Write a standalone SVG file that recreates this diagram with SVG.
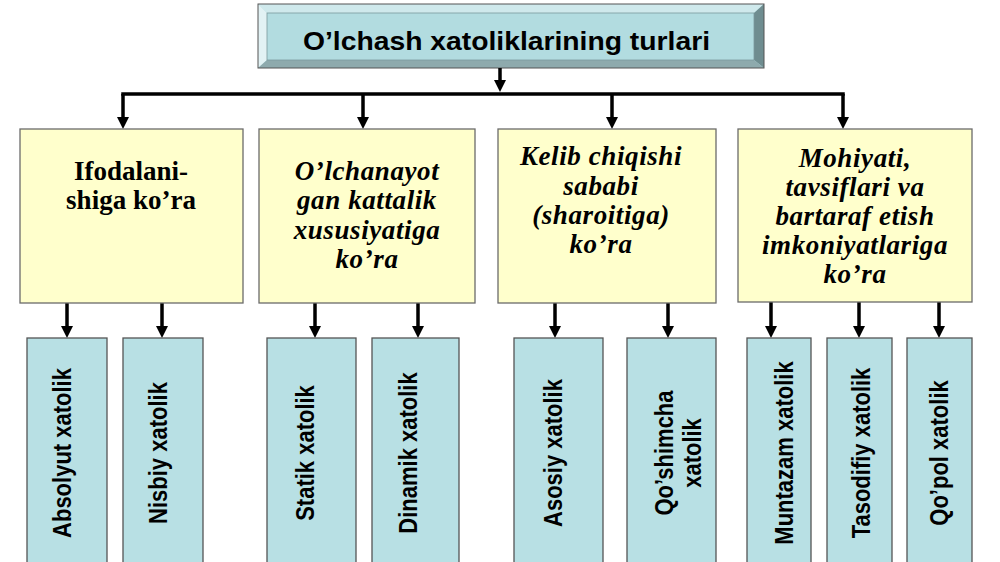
<svg xmlns="http://www.w3.org/2000/svg" width="1000" height="562" viewBox="0 0 1000 562">
  <defs>
    <marker id="ah" viewBox="0 0 12 12" refX="4" refY="6" markerWidth="12" markerHeight="12" markerUnits="userSpaceOnUse" orient="auto">
      <path d="M0,0 L12,6 L0,12 z" fill="#000"/>
    </marker>
    <style>
      .conn { stroke: #000; stroke-width: 3.5; fill: none; }
      .arr { marker-end: url(#ah); }
      .cat { fill: #ffffcc; stroke: #6b6b6b; stroke-width: 1.3; }
      .leaf { fill: #b8e0e4; stroke: #555; stroke-width: 1.3; }
      .ct { font-family: "Liberation Serif", "Times New Roman", serif; font-weight: bold; font-size: 27px; fill: #000; text-anchor: middle; }
      .it { font-style: italic; letter-spacing: 0.6px; }
      .lt { font-family: "Liberation Sans", Arial, sans-serif; font-weight: bold; font-size: 22px; fill: #000; text-anchor: middle; }
    </style>
  </defs>
  <rect width="1000" height="562" fill="#fff"/>

  <g id="title">
    <rect x="258" y="4" width="506" height="64" fill="#b2dce0"/>
    <polygon points="258,4 764,4 754,13 267,13" fill="#cfe9ec"/>
    <polygon points="258,4 267,13 267,60 258,68" fill="#e2f2f4"/>
    <polygon points="764,4 764,68 754,60 754,13" fill="#6f8d90"/>
    <polygon points="258,68 267,60 754,60 764,68" fill="#8eaaad"/>
    <rect x="258" y="4" width="506" height="64" fill="none" stroke="#555" stroke-width="1"/>
    <rect x="267" y="13" width="487" height="47" fill="none" stroke="#7a9a9d" stroke-width="0.8"/>
    <text x="506.5" y="50" font-family="'Liberation Sans', Arial, sans-serif" font-weight="bold" font-size="25.5" text-anchor="middle" textLength="407" lengthAdjust="spacingAndGlyphs">O’lchash xatoliklarining turlari</text>
  </g>

  <g id="connectors">
    <path class="conn arr" d="M500,68 V84"/>
    <path class="conn" d="M123,94 H843" stroke-linecap="square"/>
    <path class="conn arr" d="M123,94 V121"/>
    <path class="conn arr" d="M363,94 V121"/>
    <path class="conn arr" d="M612,94 V121"/>
    <path class="conn arr" d="M843,94 V121"/>
    <path class="conn arr" d="M67,303 V330"/>
    <path class="conn arr" d="M162,303 V330"/>
    <path class="conn arr" d="M315,303 V330"/>
    <path class="conn arr" d="M418,303 V330"/>
    <path class="conn arr" d="M555,303 V330"/>
    <path class="conn arr" d="M668,303 V330"/>
    <path class="conn arr" d="M771,302 V330"/>
    <path class="conn arr" d="M859,302 V330"/>
    <path class="conn arr" d="M939,302 V330"/>
  </g>

  <g id="cat1">
    <rect class="cat" x="20" y="129" width="223" height="174"/>
    <text class="ct" x="131" y="180">Ifodalani-</text>
    <text class="ct" x="131" y="209">shiga ko’ra</text>
  </g>
  <g id="cat2">
    <rect class="cat" x="259" y="129" width="216" height="174"/>
    <text class="ct it" x="367" y="180">O’lchanayot</text>
    <text class="ct it" x="367" y="209">gan kattalik</text>
    <text class="ct it" x="367" y="239">xususiyatiga</text>
    <text class="ct it" x="367" y="268">ko’ra</text>
  </g>
  <g id="cat3">
    <rect class="cat" x="498" y="129" width="218" height="174"/>
    <text class="ct it" x="601" y="165">Kelib chiqishi</text>
    <text class="ct it" x="601" y="195">sababi</text>
    <text class="ct it" x="601" y="224">(sharoitiga)</text>
    <text class="ct it" x="601" y="253">ko’ra</text>
  </g>
  <g id="cat4">
    <rect class="cat" x="738" y="129" width="234" height="173"/>
    <text class="ct it" x="855" y="167">Mohiyati,</text>
    <text class="ct it" x="855" y="196">tavsiflari va</text>
    <text class="ct it" x="855" y="225">bartaraf etish</text>
    <text class="ct it" x="855" y="254">imkoniyatlariga</text>
    <text class="ct it" x="855" y="283">ko’ra</text>
  </g>

  <g id="leaf1">
    <rect class="leaf" x="27" y="338" width="80" height="232"/>
    <text class="lt" transform="translate(70.5,453) rotate(-90) scale(1,1.13)">Absolyut xatolik</text>
  </g>
  <g id="leaf2">
    <rect class="leaf" x="123" y="338" width="80" height="232"/>
    <text class="lt" transform="translate(166.5,453) rotate(-90) scale(1,1.13)">Nisbiy xatolik</text>
  </g>
  <g id="leaf3">
    <rect class="leaf" x="267" y="338" width="89" height="232"/>
    <text class="lt" transform="translate(314,453) rotate(-90) scale(1,1.13)">Statik xatolik</text>
  </g>
  <g id="leaf4">
    <rect class="leaf" x="372" y="338" width="87" height="232"/>
    <text class="lt" transform="translate(417,453) rotate(-90) scale(1,1.13)">Dinamik xatolik</text>
  </g>
  <g id="leaf5">
    <rect class="leaf" x="514" y="338" width="89" height="232"/>
    <text class="lt" transform="translate(562,453) rotate(-90) scale(1,1.13)">Asosiy xatolik</text>
  </g>
  <g id="leaf6">
    <rect class="leaf" x="627" y="338" width="89" height="232"/>
    <text class="lt" transform="translate(672.5,453) rotate(-90) scale(1,1.13)">Qo’shimcha</text>
    <text class="lt" transform="translate(701,453) rotate(-90) scale(1,1.13)">xatolik</text>
  </g>
  <g id="leaf7">
    <rect class="leaf" x="747" y="338" width="64" height="232"/>
    <text class="lt" transform="translate(793,453) rotate(-90) scale(1,1.13)">Muntazam xatolik</text>
  </g>
  <g id="leaf8">
    <rect class="leaf" x="827" y="338" width="65" height="232"/>
    <text class="lt" transform="translate(870,453) rotate(-90) scale(1,1.13)">Tasodifiy xatolik</text>
  </g>
  <g id="leaf9">
    <rect class="leaf" x="907" y="338" width="65" height="232"/>
    <text class="lt" transform="translate(948,453) rotate(-90) scale(1,1.13)">Qo’pol xatolik</text>
  </g>
</svg>
